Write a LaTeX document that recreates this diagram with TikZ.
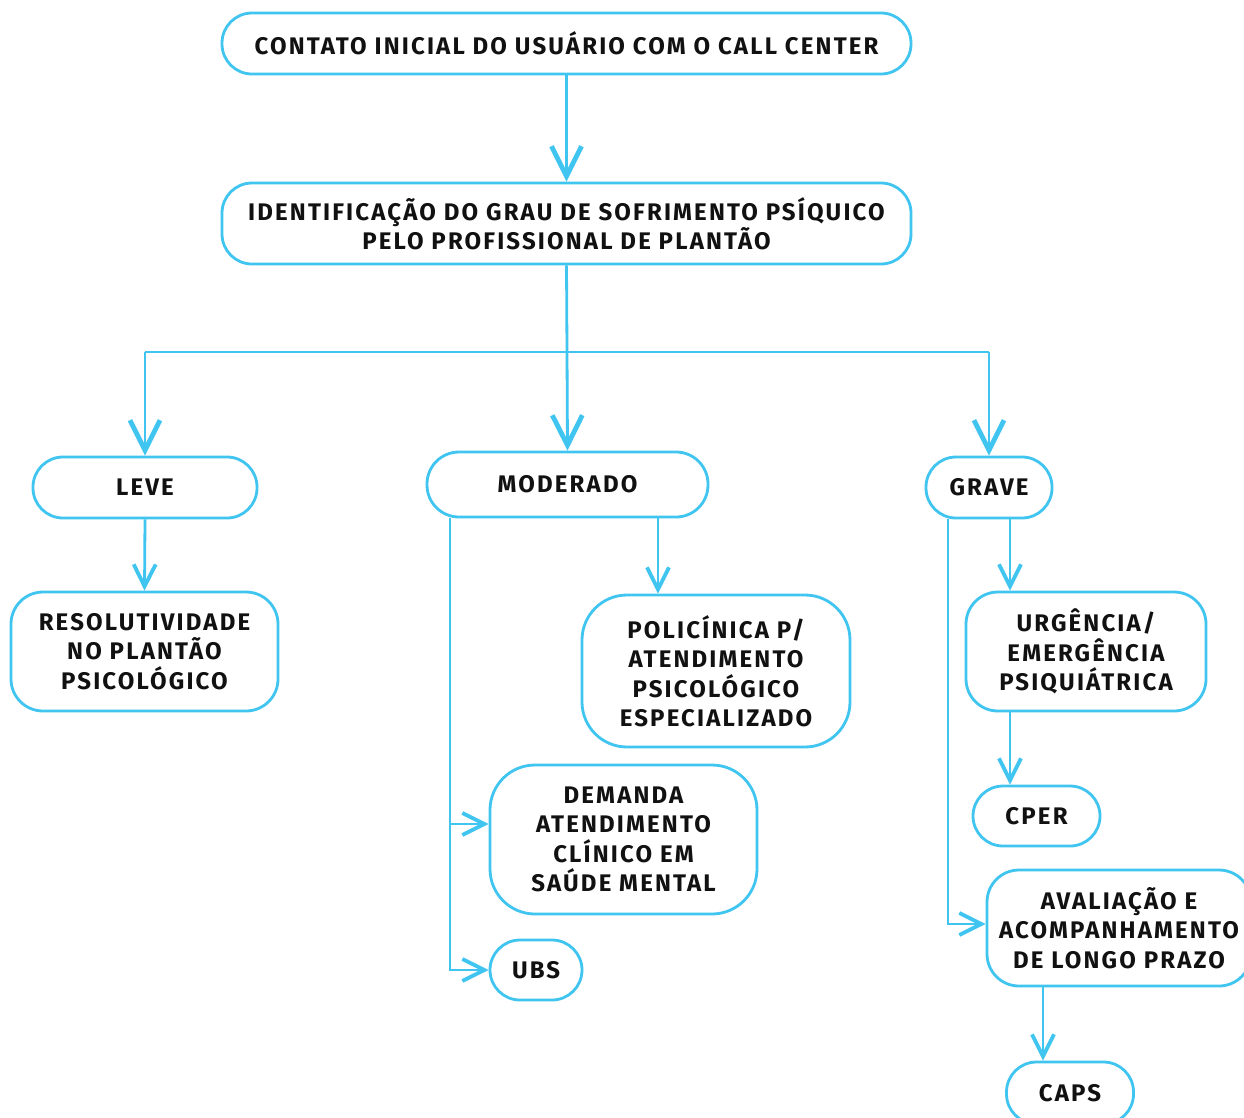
\documentclass[tikz,border=0pt]{standalone}
\usepackage{fontspec}
\setmainfont{Fira Sans}[LetterSpace=9]
\usetikzlibrary{arrows.meta}
\definecolor{cy}{RGB}{64,196,240}
\definecolor{ink}{RGB}{17,17,17}
\tikzset{
  box/.style={draw=cy, line width=2.8pt, fill=white, text=ink, align=center,
    font=\fontsize{24}{29.5}\selectfont\bfseries, inner sep=0pt},
  conn/.style={draw=cy, line width=2.8pt},
  bigtip/.style={-{Straight Barb[length=30pt,width=30pt,line width=4.8pt]}},
  smalltip/.style={-{Straight Barb[length=22pt,width=22pt,line width=3.8pt]}},
}
\begin{document}
\begin{tikzpicture}[x=1pt,y=-1pt]
\useasboundingbox (0,0) rectangle (1244,1117);
\clip (0,0) rectangle (1244,1117);
% nodes
\node[box, minimum width=689pt, minimum height=61pt, rounded corners=30pt] (top) at (566.5,43.5) {CONTATO INICIAL DO USUÁRIO COM O CALL CENTER};
\node[box, minimum width=689pt, minimum height=81pt, rounded corners=30pt] (ident) at (566.5,223.5) {IDENTIFICAÇÃO DO GRAU DE SOFRIMENTO PSÍQUICO\\PELO PROFISSIONAL DE PLANTÃO};
\node[box, minimum width=224pt, minimum height=61pt, rounded corners=30pt] (leve) at (145,487.5) {LEVE};
\node[box, minimum width=281pt, minimum height=65pt, rounded corners=32pt] (mod) at (567.5,484.5) {MODERADO};
\node[box, minimum width=126pt, minimum height=61pt, rounded corners=30pt] (grave) at (989,487.5) {GRAVE};
\node[box, minimum width=267pt, minimum height=119pt, rounded corners=32pt] (resol) at (144.5,651.5) {RESOLUTIVIDADE\\NO PLANTÃO\\PSICOLÓGICO};
\node[box, minimum width=268pt, minimum height=152pt, rounded corners=45pt] (poli) at (716,671) {POLICÍNICA P/\\ATENDIMENTO\\PSICOLÓGICO\\ESPECIALIZADO};
\node[box, minimum width=267pt, minimum height=149pt, rounded corners=45pt] (dem) at (623.5,839.5) {DEMANDA\\ATENDIMENTO\\CLÍNICO EM\\SAÚDE MENTAL};
\node[box, minimum width=92pt, minimum height=60pt, rounded corners=30pt] (ubs) at (536,970) {UBS};
\node[box, minimum width=240pt, minimum height=119pt, rounded corners=32pt] (urg) at (1086,651.5) {URGÊNCIA/\\EMERGÊNCIA\\PSIQUIÁTRICA};
\node[box, minimum width=127pt, minimum height=60pt, rounded corners=30pt] (cper) at (1036.5,816) {CPER};
\node[box, minimum width=264pt, minimum height=116pt, rounded corners=32pt] (aval) at (1119,928) {AVALIAÇÃO E\\ACOMPANHAMENTO\\DE LONGO PRAZO};
\node[box, minimum width=127pt, minimum height=62pt, rounded corners=30pt] (caps) at (1070,1093) {CAPS};
% coordinates
\coordinate (bus) at (567,352);
\coordinate (busL) at (145,352);
\coordinate (busR) at (989,352);
% connectors
\draw[conn, bigtip] (top.south) -- (ident.north);
\draw[conn] (ident.south) -- (bus);
\draw[conn] (busL) -- (busR);
\draw[conn, bigtip] (bus) -- (mod.north);
\draw[conn, bigtip] (busL) -- (leve.north);
\draw[conn, bigtip] (busR) -- (grave.north);
\draw[conn, smalltip] (leve.south) -- (resol.north);
\draw[conn, smalltip] (mod.south -| 658,0) -- (poli.north -| 658,0);
\draw[conn, smalltip] (mod.south -| 450,0) |- (ubs.west);
\draw[conn, smalltip] (450,824) -- (dem.west |- 0,824);
\draw[conn, smalltip] (grave.south -| 1010,0) -- (urg.north -| 1010,0);
\draw[conn, smalltip] (urg.south -| 1010,0) -- (cper.north -| 1010,0);
\draw[conn, smalltip] (grave.south -| 948,0) |- (aval.west |- 0,924);
\draw[conn, smalltip] (aval.south -| 1043,0) -- (caps.north -| 1043,0);
\end{tikzpicture}
\end{document}
